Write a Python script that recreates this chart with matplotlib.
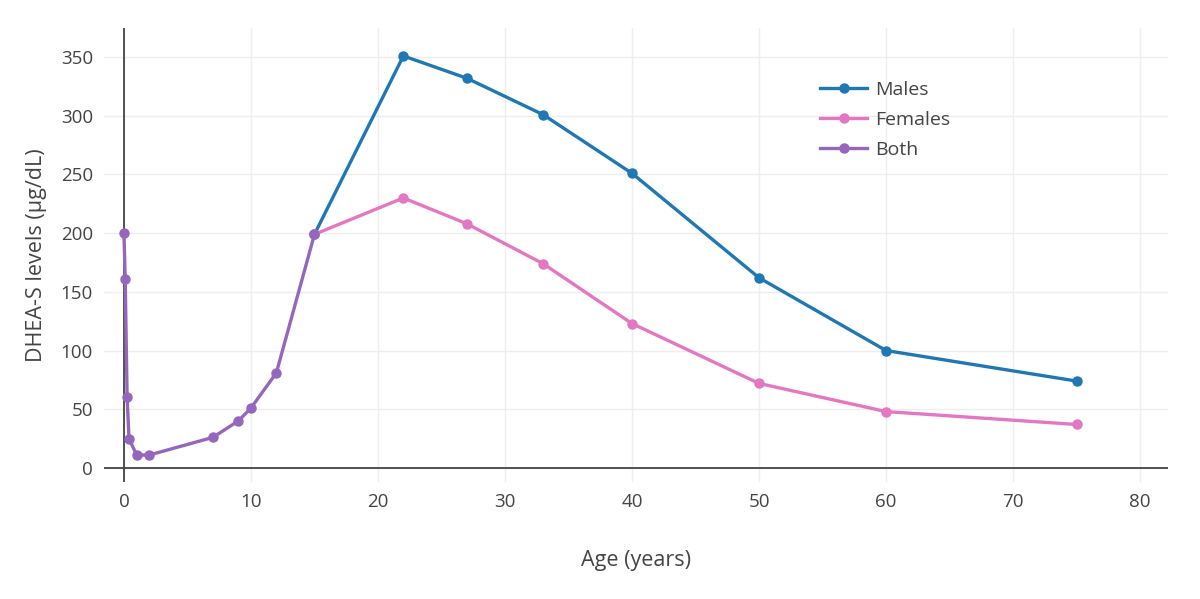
import matplotlib
matplotlib.use("Agg")
import matplotlib.pyplot as plt

plt.rcParams['font.family'] = ['Open Sans', 'DejaVu Sans']

both_age = [0, 0.1, 0.25, 0.4, 1, 2, 7, 9, 10, 12, 15]
both_val = [200, 161, 60, 25, 11, 11, 26, 40, 51, 81, 199]
males_age = [15, 22, 27, 33, 40, 50, 60, 75]
males_val = [199, 351, 332, 301, 251, 162, 100, 74]
females_age = [15, 22, 27, 33, 40, 50, 60, 75]
females_val = [199, 230, 208, 174, 123, 72, 48, 37]
x_ticks = [0, 10, 20, 30, 40, 50, 60, 70, 80]
y_ticks = [0, 50, 100, 150, 200, 250, 300, 350]

fig = plt.figure(figsize=(12, 5.99), dpi=100)
ax = fig.add_axes([104/1200, 1-482/599, (1168-104)/1200, (482-28)/599])

ax.plot(males_age, males_val, color='#1f77b4', lw=2.4, marker='o', ms=6.5, label='Males', zorder=3)
ax.plot(females_age, females_val, color='#e377c2', lw=2.4, marker='o', ms=6.5, label='Females', zorder=3)
ax.plot(both_age, both_val, color='#9467bd', lw=2.4, marker='o', ms=6.5, label='Both', zorder=4)

ax.set_xlim(-1.57, 82.2)
ax.set_ylim(-12, 374.8)
ax.set_xticks(x_ticks)
ax.set_yticks(y_ticks)
ax.grid(True, color='#eeeeee', lw=1, zorder=0)
ax.set_axisbelow(True)
for s in ax.spines.values():
    s.set_visible(False)
ax.axhline(0, color='#444444', lw=1.3, zorder=2)
ax.axvline(0, color='#444444', lw=1.3, zorder=2)
ax.tick_params(length=0, labelsize=13.5, labelcolor='#444444', pad=8)

ax.set_xlabel('Age (years)', fontsize=15.5, color='#444444', labelpad=28)
ax.set_ylabel('DHEA-S levels (µg/dL)', fontsize=15.5, color='#444444', labelpad=10)

leg = ax.legend(loc='upper left', bbox_to_anchor=(0.666, 0.9), frameon=False,
                fontsize=14, labelcolor='#444444', handlelength=2.4, labelspacing=0.6,
                handletextpad=0.4, borderaxespad=0)

fig.savefig('out.png', dpi=100)
